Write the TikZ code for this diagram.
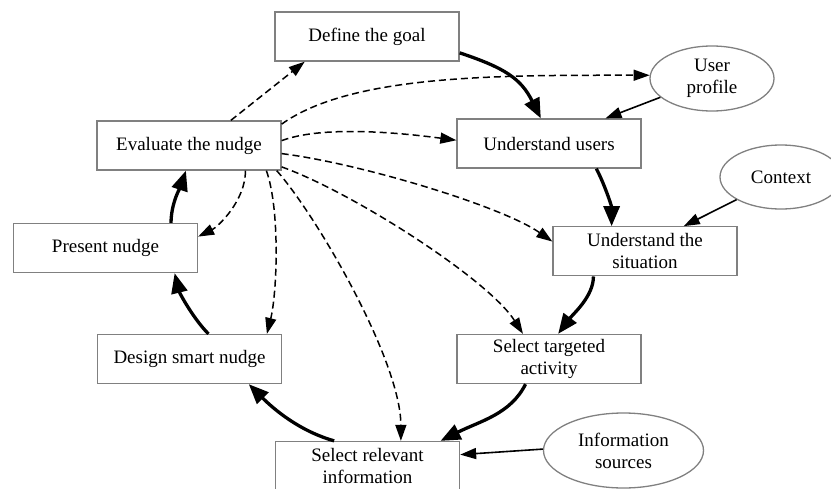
\documentclass[tikz,border=0pt]{standalone}
\usepackage{fontspec}
\setmainfont{Liberation Serif}
\usepackage{tikz}
\usetikzlibrary{arrows.meta, shapes.geometric}

\begin{document}
\begin{tikzpicture}[x=1pt,y=-1pt,
    box/.style={draw=black!50, line width=1.3pt, minimum width=184pt, minimum height=49pt,
      inner sep=0pt, align=center, font=\fontsize{19}{22}\selectfont},
    oval/.style={ellipse, draw=black!50, line width=1.3pt, inner sep=0pt, align=center,
      font=\fontsize{19}{22}\selectfont},
    mainarrow/.style={line width=3.3pt, -{Triangle[length=20pt,width=16pt]}},
    inarrow/.style={line width=1.6pt, -{Triangle[length=16pt,width=11pt]}},
    evalarrow/.style={line width=1.5pt, dash pattern=on 7pt off 4pt, -{Triangle[length=16pt,width=11pt]}}]
      \useasboundingbox (0,0) rectangle (831,488);

      \node[box] (goal) at (367,36.5) {Define the goal};
      \node[box] (evaluate) at (189,145.5) {Evaluate the nudge};
      \node[box] (users) at (549,143.5) {Understand users};
      \node[box] (present) at (105.5,248) {Present nudge};
      \node[box] (situation) at (645,251.3) {Understand the\\situation};
      \node[box] (design) at (189.5,359) {Design smart nudge};
      \node[box] (targeted) at (549,359) {Select targeted\\activity};
      \node[box] (relevant) at (367.5,466) {Select relevant\\information};

      \node[oval, minimum width=124pt, minimum height=65pt] (profile) at (712,78.5) {User\\profile};
      \node[oval, minimum width=122pt, minimum height=64pt] (context) at (781,177) {Context};
      \node[oval, minimum width=160pt, minimum height=75pt] (sources) at (623.5,450.5) {Information\\sources};

      \draw[mainarrow] (goal.-10) .. controls +(45,15) and +(-20,-40) .. (users.108);
      \draw[mainarrow] (users.-28) .. controls +(8,15) and +(0,-20) .. (situation.143);
      \draw[mainarrow] (situation.-154) .. controls +(0,20) and +(15,-20) .. (targeted.70);
      \draw[mainarrow] (targeted.-133) .. controls +(-15,30) and +(40,-20) .. (relevant.19);
      \draw[mainarrow] (relevant.143) .. controls +(-35,-10) and +(25,25) .. (design.-23);
      \draw[mainarrow] (design.53) .. controls +(-15,-15) and +(5,20) .. (present.-20);
      \draw[mainarrow] (present.21) .. controls +(0,-20) and +(-5,15) .. (evaluate.-97);

      \draw[inarrow] (profile.200) -- (users.24);
      \draw[inarrow] (context.207) -- (situation.33);
      \draw[inarrow] (sources.179) -- (relevant.7);

      \draw[evalarrow] (evaluate.31) -- (goal.-158);
      \draw[evalarrow] (evaluate.13) .. controls +(70,-50) and +(-150,0) .. (profile.177);
      \draw[evalarrow] (evaluate.3) .. controls +(40,-15) and +(-60,-8) .. (users.178);
      \draw[evalarrow] (evaluate.-5) .. controls +(80,10) and +(-50,-35) .. (situation.174);
      \draw[evalarrow] (evaluate.-13) .. controls +(70,25) and +(-35,-55) .. (targeted.136);
      \draw[evalarrow] (evaluate.-16) .. controls +(40,45) and +(0,-80) .. (relevant.37);
      \draw[evalarrow] (evaluate.-18) .. controls +(14,40) and +(10,-40) .. (design.18);
      \draw[evalarrow] (evaluate.-24) .. controls +(0,30) and +(20,-10) .. (present.7);
\end{tikzpicture}
\end{document}
